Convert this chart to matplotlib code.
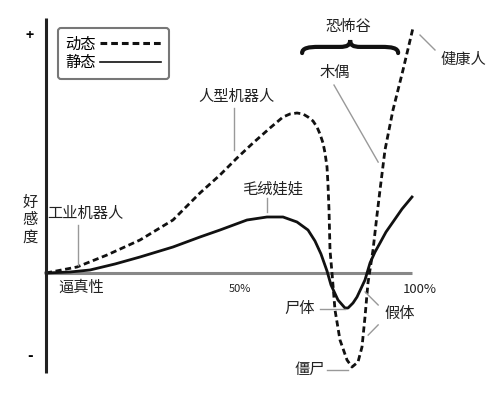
import matplotlib
matplotlib.use('Agg')
from matplotlib import pyplot as plt
from matplotlib.path import Path
from matplotlib.patches import PathPatch

plt.rcParams['font.family'] = ['Noto Sans CJK SC', 'DejaVu Sans']

# realism (%) vs affinity (+ = 100)
moving_x = [0, 8.07, 15.89, 24.48, 33.07, 40.10, 45.31, 49.74, 53.91, 58.33, 61.72,
            63.54, 65.36, 66.93, 68.23, 69.53, 70.57, 71.35, 72.14, 72.66, 73.18,
            73.44, 73.70, 73.96, 74.48, 75.26, 76.56, 78.39, 79.69, 81.25, 82.29,
            83.07, 83.85, 85.16, 86.20, 86.98, 88.28, 90.36, 92.97, 95.57]
moving_y = [0, 2.53, 7.59, 13.92, 22.36, 33.76, 41.35, 48.52, 54.85, 61.18, 65.82,
            67.09, 67.51, 67.09, 65.82, 64.14, 61.60, 58.65, 54.85, 50.63, 44.73,
            37.13, 26.58, 9.70, 0, -15.61, -28.27, -36.71, -39.66, -37.55, -31.22,
            -18.57, -4.22, 9.70, 24.47, 35.02, 51.90, 68.78, 85.65, 103.38]

still_x = [0, 6.25, 11.46, 17.97, 24.48, 33.07, 40.10, 45.31, 52.34, 57.55, 61.72,
           65.36, 68.23, 70.05, 71.61, 73.18, 74.22, 76.04, 77.86, 78.65, 79.95,
           80.99, 83.07, 84.38, 85.68, 86.98, 88.54, 90.36, 92.71, 95.31]
still_y = [0, 0.42, 1.27, 3.80, 6.75, 10.97, 15.19, 18.14, 22.36, 23.63, 23.63,
           21.52, 18.14, 13.50, 8.02, 0.84, -5.06, -11.39, -14.77, -14.77, -12.66,
           -10.13, -2.95, 4.22, 8.86, 12.66, 17.30, 21.52, 27.00, 32.07]

# label, text pos, pointer lines
labels = [
    ('工业机器人', (10.2, 25.3), [((8.3, 20.3), (8.3, 3.4))]),
    ('人型机器人', (49.7, 74.3), [((49.0, 69.6), (49.0, 51.9))]),
    ('毛绒娃娃', (58.9, 35.4), [((57.6, 31.6), (57.6, 25.7))]),
    ('木偶', (75.3, 84.4), [((75.0, 79.3), (86.5, 46.8))]),
    ('健康人', (108.6, 89.9), [((97.4, 100.4), (101.3, 94.1))]),
    ('尸体', (66.1, -14.8), [((71.4, -15.2), (77.9, -15.2))]),
    ('僵尸', (68.8, -40.9), [((73.2, -40.9), (78.6, -40.9))]),
    ('假体', (92.2, -16.9), [((83.1, -8.0), (86.5, -13.5)), ((86.5, -21.9), (83.9, -26.2))]),
]

fig = plt.figure(figsize=(5, 4), dpi=100)
ax = fig.add_axes([0, 0, 1, 1])
ax.set_xlim(-11.98, 118.23)
ax.set_ylim(-53.59, 115.19)
ax.axis('off')

# axes
ax.plot([0, 95.3], [0, 0], color='#888888', lw=2.2, solid_capstyle='butt', zorder=1)
ax.plot([0, 0], [-42.2, 107.6], color='#222222', lw=2.2, solid_capstyle='butt', zorder=3)

ax.plot(moving_x, moving_y, color='#111111', lw=2.0, linestyle=(0, (2.2, 1.3)),
        label='动态', zorder=2)
ax.plot(still_x, still_y, color='#111111', lw=2.0, label='静态', zorder=2)

for txt, (tx, ty), lines in labels:
    ax.text(tx, ty, txt, fontsize=11, ha='center', va='center', color='#222222')
    for (x0, y0), (x1, y1) in lines:
        ax.plot([x0, x1], [y0, y1], color='#999999', lw=1.0)

ax.text(-4.2, 100, '+', fontsize=10, ha='center', va='center', fontweight='bold')
ax.text(-4.2, -35, '-', fontsize=11, ha='center', va='center', fontweight='bold')
ax.text(-4.2, 22.4, '好\n感\n度', fontsize=11, ha='center', va='center',
        linespacing=1.0, color='#222222')
ax.text(9.1, -5.9, '逼真性', fontsize=11, ha='center', va='center', color='#222222')
ax.text(50.5, -6.8, '50%', fontsize=8, ha='center', va='center', color='#222222')
ax.text(97.4, -6.8, '100%', fontsize=9.5, ha='center', va='center', color='#222222')
ax.text(78.6, 104.1, '恐怖谷', fontsize=11, ha='center', va='center', color='#222222')

# curly brace over the valley
verts = [(66.7, 92.8), (66.7, 95.0), (68.5, 95.4), (71.0, 95.4), (76.5, 95.4),
         (78.5, 95.4), (79.2, 96.2), (79.2, 98.3), (79.2, 96.2), (79.9, 95.4),
         (81.9, 95.4), (87.4, 95.4), (89.9, 95.4), (91.7, 95.0), (91.7, 92.8)]
codes = [Path.MOVETO, Path.CURVE4, Path.CURVE4, Path.CURVE4, Path.LINETO,
         Path.CURVE4, Path.CURVE4, Path.CURVE4, Path.CURVE4, Path.CURVE4,
         Path.CURVE4, Path.LINETO, Path.CURVE4, Path.CURVE4, Path.CURVE4]
ax.add_patch(PathPatch(Path(verts, codes), fill=False, lw=3.0, edgecolor='#111111',
                       capstyle='round'))

leg = ax.legend(loc='upper left', bbox_to_anchor=(0.116, 0.93), bbox_transform=fig.transFigure,
                markerfirst=False, fontsize=11, handlelength=4.0, handletextpad=0.25,
                labelspacing=0.1, borderpad=0.5, borderaxespad=0, fancybox=True,
                framealpha=1)
leg.get_frame().set_edgecolor('#777777')
leg.get_frame().set_linewidth(1.5)
leg_lines = leg.get_lines()
leg_lines[0].set_linewidth(2.2)
leg_lines[1].set_linewidth(1.2)

fig.savefig('out.png', dpi=100)
